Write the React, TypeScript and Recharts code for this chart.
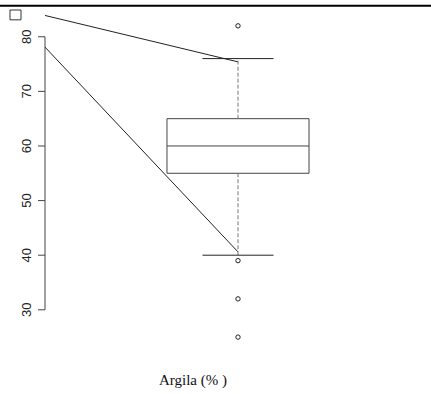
import {
  ComposedChart,
  Label,
  ReferenceArea,
  ReferenceLine,
  Scatter,
  XAxis,
  YAxis,
} from "recharts";

// Argila (%) summary: one box at x = 1
const quartiles = [55, 65];
const median = 60;
const whiskers = [40, 76];
const outliers = [82, 39, 32, 25];
const yTicks = [30, 40, 50, 60, 70, 80];

// two straight lines running from the axis to the whisker ends
const upperLine = [
  { x: 0.5, y: 83.9 },
  { x: 1, y: 75.4 },
];
const lowerLine = [
  { x: 0.5, y: 78.1 },
  { x: 1, y: 40.6 },
];

const outlierPoints = outliers.map((v) => ({ x: 1, y: v }));

const BOX_HALF = 0.184;
const CAP_HALF = 0.092;
const INK = "#222";

const RotatedTick = (props: any) => {
  const { y, payload } = props;
  return (
    <text
      x={31}
      y={y}
      transform={`rotate(-90 31 ${y})`}
      textAnchor="middle"
      fontSize={13}
      fill={INK}
      fontFamily="'Liberation Sans', Arial, sans-serif"
    >
      {payload.value}
    </text>
  );
};

const OpenCircle = (props: any) => (
  <circle cx={props.cx} cy={props.cy} r={2.2} fill="none" stroke={INK} strokeWidth={1} />
);

export default function App() {
  return (
    <div style={{ position: "absolute", left: 0, top: 0, background: "#fff" }}>
      <ComposedChart
        width={431}
        height={394}
        margin={{ top: 4, right: 0, bottom: 0, left: 0 }}
      >
        <XAxis
          type="number"
          dataKey="x"
          domain={[0.5, 1.5]}
          allowDataOverflow
          height={29.6}
          axisLine={false}
          tickLine={false}
          tick={false}
        >
          <Label
            content={() => (
              <text
                x={193}
                y={385}
                textAnchor="middle"
                fontSize={15}
                fill="#111"
                fontFamily="'Liberation Serif', 'Times New Roman', serif"
              >
                Argila (% )
              </text>
            )}
          />
        </XAxis>
        <YAxis
          type="number"
          dataKey="y"
          domain={[20, 86]}
          allowDataOverflow
          width={45}
          ticks={yTicks}
          interval={0}
          axisLine={false}
          tickSize={7}
          tickLine={{ stroke: "#444" }}
          tick={<RotatedTick />}
        />
        {/* y axis line, only over the tick range */}
        <ReferenceLine
          segment={[
            { x: 0.5, y: yTicks[0] },
            { x: 0.5, y: yTicks[yTicks.length - 1] },
          ]}
          stroke="#444"
          strokeWidth={1}
          ifOverflow="visible"
        />
        {/* heavy rule along the top edge */}
        <ReferenceLine
          segment={[
            { x: 0.3834, y: 85.7 },
            { x: 1.5, y: 85.7 },
          ]}
          stroke="#000"
          strokeWidth={2}
          ifOverflow="visible"
        />
        {/* empty legend key */}
        <ReferenceArea
          x1={0.4093}
          x2={0.4378}
          y1={83.1}
          y2={84.9}
          fill="none"
          stroke="#333"
          strokeWidth={1}
          ifOverflow="visible"
        />
        <ReferenceLine segment={upperLine} stroke={INK} strokeWidth={1} ifOverflow="visible" />
        <ReferenceLine segment={lowerLine} stroke={INK} strokeWidth={1} ifOverflow="visible" />
        {/* whiskers */}
        <ReferenceLine
          segment={[
            { x: 1, y: quartiles[1] },
            { x: 1, y: whiskers[1] },
          ]}
          stroke="#777"
          strokeDasharray="4 2"
        />
        <ReferenceLine
          segment={[
            { x: 1, y: quartiles[0] },
            { x: 1, y: whiskers[0] },
          ]}
          stroke="#777"
          strokeDasharray="4 2"
        />
        <ReferenceLine
          segment={[
            { x: 1 - CAP_HALF, y: whiskers[1] },
            { x: 1 + CAP_HALF, y: whiskers[1] },
          ]}
          stroke={INK}
        />
        <ReferenceLine
          segment={[
            { x: 1 - CAP_HALF, y: whiskers[0] },
            { x: 1 + CAP_HALF, y: whiskers[0] },
          ]}
          stroke={INK}
        />
        {/* box and median */}
        <ReferenceArea
          x1={1 - BOX_HALF}
          x2={1 + BOX_HALF}
          y1={quartiles[0]}
          y2={quartiles[1]}
          fill="none"
          stroke="#444"
          strokeWidth={1}
        />
        <ReferenceLine
          segment={[
            { x: 1 - BOX_HALF, y: median },
            { x: 1 + BOX_HALF, y: median },
          ]}
          stroke="#444"
        />
        <Scatter
          data={outlierPoints}
          dataKey="y"
          shape={<OpenCircle />}
          isAnimationActive={false}
        />
      </ComposedChart>
    </div>
  );
}
